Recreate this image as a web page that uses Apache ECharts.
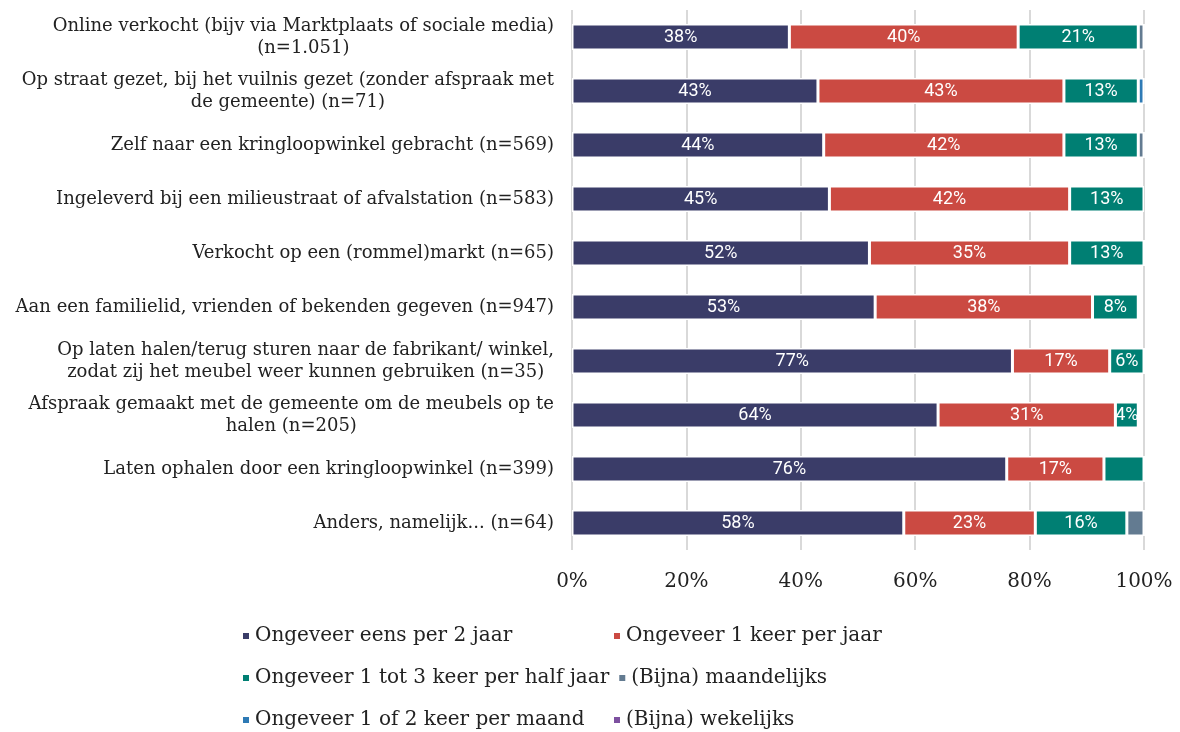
<!DOCTYPE html>
<html>
<head>
<meta charset="utf-8">
<style>
  html, body { margin: 0; padding: 0; background: #fff; }
  #chart { width: 1180px; height: 732px; }
</style>
<script src="https://cdn.jsdelivr.net/npm/echarts@6/dist/echarts.min.js"></script>
</head>
<body>
<div id="chart"></div>
<script>
// categories (top to bottom as in the picture)
const categories = [
  'Online verkocht (bijv via Marktplaats of sociale media)\n(n=1.051)',
  'Op straat gezet, bij het vuilnis gezet (zonder afspraak met\nde gemeente) (n=71)',
  'Zelf naar een kringloopwinkel gebracht (n=569)',
  'Ingeleverd bij een milieustraat of afvalstation (n=583)',
  'Verkocht op een (rommel)markt (n=65)',
  'Aan een familielid, vrienden of bekenden gegeven (n=947)',
  'Op laten halen/terug sturen naar de fabrikant/ winkel,\nzodat zij het meubel weer kunnen gebruiken (n=35)',
  'Afspraak gemaakt met de gemeente om de meubels op te\nhalen (n=205)',
  'Laten ophalen door een kringloopwinkel (n=399)',
  'Anders, namelijk... (n=64)'
];

const seriesNames = [
  'Ongeveer eens per 2 jaar',
  'Ongeveer 1 keer per jaar',
  'Ongeveer 1 tot 3 keer per half jaar',
  '(Bijna) maandelijks',
  'Ongeveer 1 of 2 keer per maand',
  '(Bijna) wekelijks'
];

const colors = ['#3a3c68', '#cb4a42', '#007f73', '#637b91', '#2e7ab5', '#7d50a0'];

// values in %, same order as categories
const eensPer2Jaar   = [38, 43, 44, 45, 52, 53, 77, 64, 76, 58];
const keerPerJaar    = [40, 43, 42, 42, 35, 38, 17, 31, 17, 23];
const perHalfJaar    = [21, 13, 13, 13, 13, 8, 6, 4, 7, 16];
const maandelijks    = [1, 0, 1, 0.3, 0, 0, 0, 0, 0, 3];
const perMaand       = [0, 1, 0, 0, 0, 0, 0, 0.5, 0, 0];
const wekelijks      = [0, 0, 0, 0, 0, 0, 0, 0, 0, 0];

// labels that are not shown in the picture (too narrow)
const hiddenLabels = { 2: [8] };

const xTicks = [0, 20, 40, 60, 80, 100];

const allValues = [eensPer2Jaar, keerPerJaar, perHalfJaar, maandelijks, perMaand, wekelijks];

const chart = echarts.init(document.getElementById('chart'));

const series = allValues.map((vals, si) => ({
  name: seriesNames[si],
  type: 'bar',
  stack: 'total',
  barWidth: 26,
  itemStyle: { color: colors[si], borderColor: '#fff', borderWidth: 1.5 },
  label: {
    show: si < 3,
    position: 'inside',
    color: '#fff',
    fontFamily: 'Roboto',
    fontSize: 18,
    formatter: p => (p.value >= 3 ? p.value + '%' : '')
  },
  data: vals.map((v, i) => {
    const hide = (hiddenLabels[si] || []).includes(i);
    return hide ? { value: v, label: { show: false } } : v;
  })
}));

const option = {
  animation: false,
  grid: { left: 572, right: 36, top: 10, bottom: 182 },
  xAxis: {
    type: 'value',
    min: 0,
    max: 100,
    interval: 20,
    axisLine: { show: false },
    axisTick: { show: false },
    splitLine: { show: true, lineStyle: { color: '#d9d9d9', width: 2 } },
    axisLabel: {
      formatter: v => xTicks.includes(v) ? v + '%' : '',
      fontFamily: 'DejaVu Serif',
      fontSize: 20,
      color: '#222',
      margin: 22
    }
  },
  yAxis: {
    type: 'category',
    inverse: true,
    data: categories,
    axisLine: { show: false },
    axisTick: { show: false },
    axisLabel: {
      margin: 18,
      formatter: v => v.split('\n').map(l => '{c|' + l + '}').join('\n'),
      rich: {
        c: {
          align: 'center',
          fontFamily: 'DejaVu Serif',
          fontSize: 18,
          lineHeight: 22,
          color: '#222'
        }
      }
    }
  },
  legend: {
    data: seriesNames,
    left: 236,
    top: 614,
    width: 760,
    icon: 'rect',
    itemWidth: 8,
    itemHeight: 8,
    itemGap: 8,
    selectedMode: false,
    textStyle: {
      fontFamily: 'DejaVu Serif',
      fontSize: 20,
      color: '#222',
      width: 349,
      lineHeight: 34
    }
  },
  series: series
};

chart.setOption(option);
</script>
</body>
</html>
